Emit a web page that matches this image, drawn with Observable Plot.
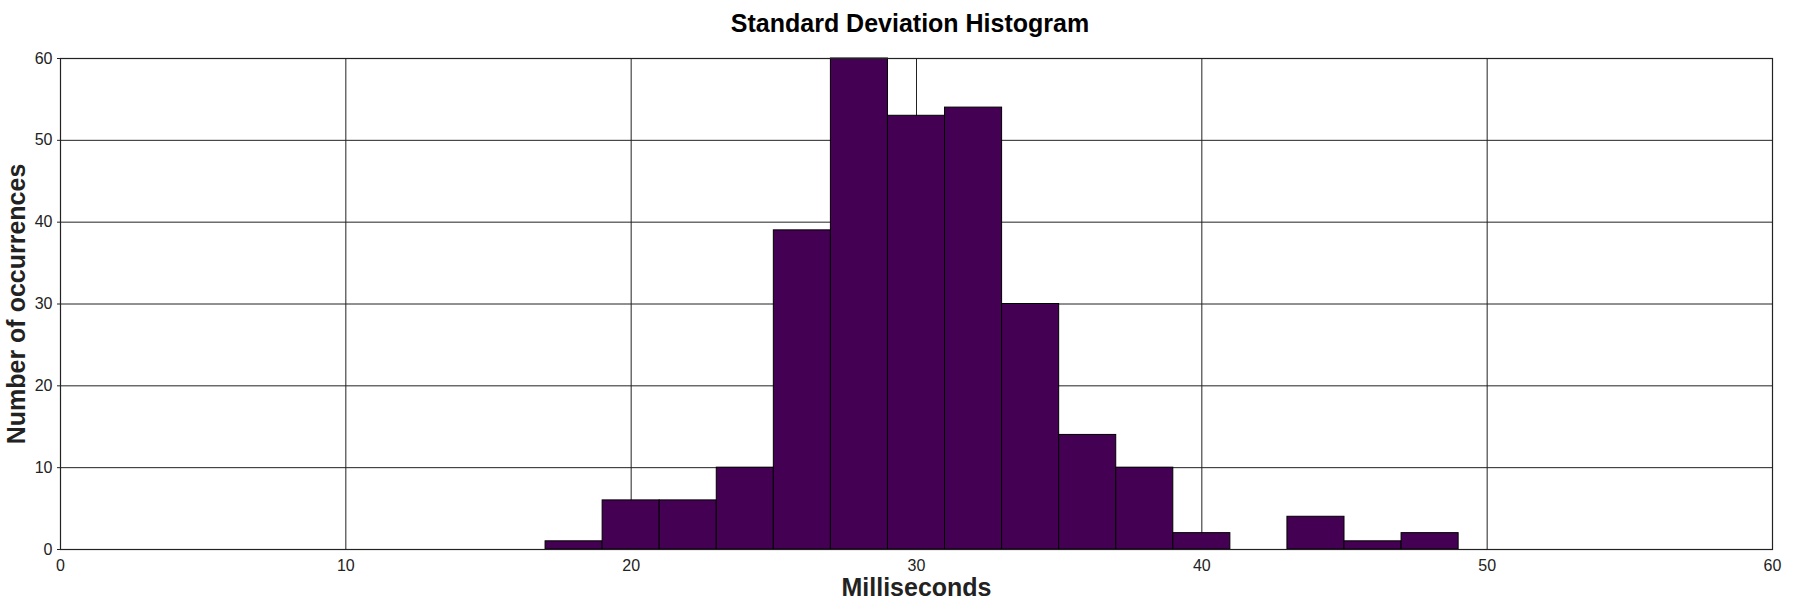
<!DOCTYPE html>
<html>
<head>
<meta charset="utf-8">
<script src="https://cdn.jsdelivr.net/npm/d3@7"></script>
<script src="https://cdn.jsdelivr.net/npm/@observablehq/plot@0.6"></script>
<style>
  body { margin: 0; background: #fff; font-family: "Liberation Sans", Arial, sans-serif; }
  #title { height: 46px; line-height: 46px; text-align: center; font-weight: bold; font-size: 25px; color: #000; padding-left: 20px; }
  #chart svg { overflow: visible; }
</style>
</head>
<body>
<div id="title">Standard Deviation Histogram</div>
<div id="chart"></div>
<script>
const binStart = [17, 19, 21, 23, 25, 27, 29, 31, 33, 35, 37, 39, 41, 43, 45, 47];
const binEnd   = [19, 21, 23, 25, 27, 29, 31, 33, 35, 37, 39, 41, 43, 45, 47, 49];
const counts   = [1, 6, 6, 10, 39, 60, 53, 54, 30, 14, 10, 2, 0, 4, 1, 2];
const xTicks = [0, 10, 20, 30, 40, 50, 60];
const yTicks = [0, 10, 20, 30, 40, 50, 60];

const bins = binStart.map((s, i) => ({x1: s, x2: binEnd[i], y: counts[i]})).filter(d => d.y > 0);

const chart = Plot.plot({
  width: 1800,
  height: 554,
  marginLeft: 60,
  marginRight: 28,
  marginTop: 12,
  marginBottom: 51,
  style: {fontFamily: "'Liberation Sans', Arial, sans-serif", fontSize: "16px", color: "#222", background: "#fff", overflow: "visible"},
  x: {domain: [0, 60], ticks: xTicks},
  y: {domain: [0, 60], ticks: yTicks},
  marks: [
    Plot.gridX(xTicks, {stroke: "#222", strokeOpacity: 1, strokeWidth: 1}),
    Plot.gridY(yTicks, {stroke: "#222", strokeOpacity: 1, strokeWidth: 1}),
    Plot.rectY(bins, {x1: "x1", x2: "x2", y: "y", fill: "#440154", stroke: "#000", strokeWidth: 1}),
    Plot.frame({stroke: "#222", strokeWidth: 1.2}),
    Plot.axisX(xTicks, {tickSize: 0, tickPadding: 10, label: null, fontSize: 16}),
    Plot.axisY(yTicks, {tickSize: 3, tickPadding: 5, label: null, fontSize: 16}),
    Plot.text(["Milliseconds"], {frameAnchor: "bottom", lineAnchor: "bottom", dy: 46, fontWeight: "bold", fontSize: 25, fill: "#222"}),
    Plot.text(["Number of occurrences"], {frameAnchor: "left", textAnchor: "middle", lineAnchor: "middle", rotate: -90, dx: -44, fontWeight: "bold", fontSize: 25, fill: "#222"})
  ]
});
document.getElementById("chart").appendChild(chart);
</script>
</body>
</html>
